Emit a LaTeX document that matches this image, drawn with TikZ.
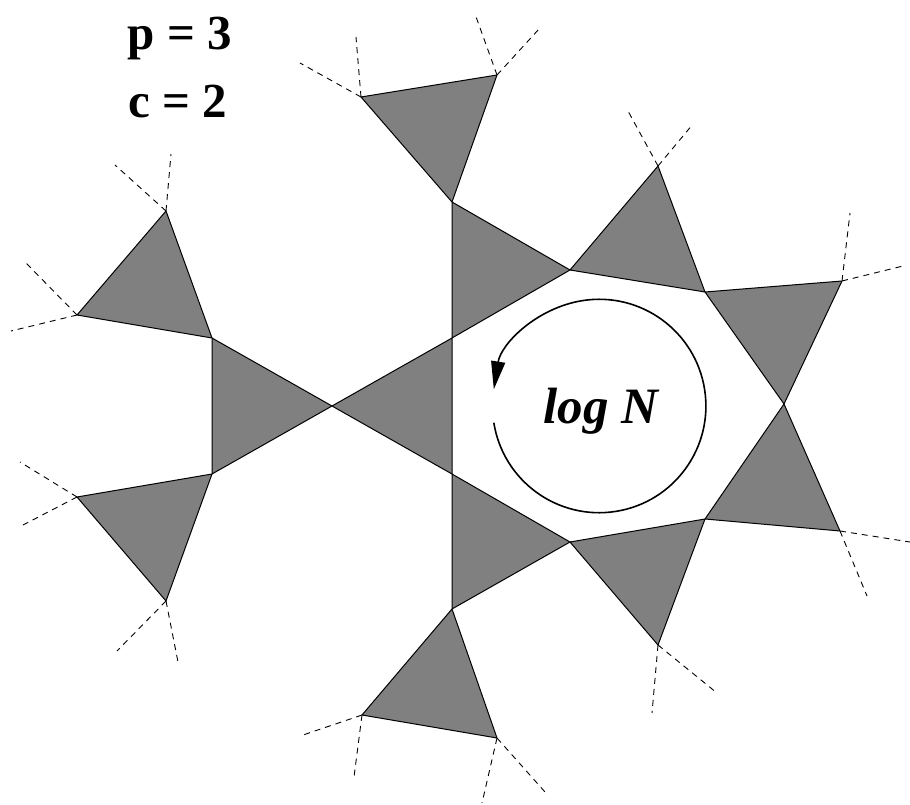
\documentclass[tikz,border=0pt]{standalone}
\usepackage{fontspec}
\setmainfont{Liberation Serif}
\usetikzlibrary{arrows.meta}
\begin{document}
\begin{tikzpicture}[x=1pt,y=1pt,
  tri/.style={fill=black!50, draw=black, line width=1pt, line join=round},
  link/.style={draw=black, dash pattern=on 6pt off 5pt, line width=0.9pt},
  lbl/.style={font=\fontsize{49}{58}\selectfont\bfseries, anchor=base, inner sep=0pt},
  cyc/.style={draw=black, line width=1.6pt, -{Triangle[length=28pt,width=14pt]}}]
\useasboundingbox (0,0) rectangle (910,-805);
% vertices
\coordinate (T1) at (361,-97);
\coordinate (T2) at (497,-75);
\coordinate (A) at (452,-202);
\coordinate (B) at (570,-270);
\coordinate (C) at (452,-338);
\coordinate (D) at (332,-406);
\coordinate (E) at (452,-474);
\coordinate (F) at (570,-542);
\coordinate (G) at (452,-609);
\coordinate (L1) at (212,-338);
\coordinate (L2) at (212,-474);
\coordinate (LU1) at (166,-211);
\coordinate (LU2) at (77,-315);
\coordinate (LL1) at (77,-497);
\coordinate (LL2) at (166,-601);
\coordinate (BT1) at (362,-715);
\coordinate (BT2) at (497,-738);
\coordinate (R1) at (658,-166);
\coordinate (R2) at (705,-292);
\coordinate (R3) at (842,-281);
\coordinate (R4) at (784,-404);
\coordinate (R5) at (840,-531);
\coordinate (R6) at (705,-519);
\coordinate (R7) at (658,-645);
% dashed link ends
\coordinate (T1a) at (300,-63);
\coordinate (T1b) at (356,-37);
\coordinate (T2a) at (475,-14);
\coordinate (T2b) at (539,-29);
\coordinate (LU1a) at (115,-165);
\coordinate (LU1b) at (171,-154);
\coordinate (LU2a) at (25,-262);
\coordinate (LU2b) at (11,-331);
\coordinate (LL1a) at (20,-462);
\coordinate (LL1b) at (23,-525);
\coordinate (LL2a) at (117,-651);
\coordinate (LL2b) at (178,-662);
\coordinate (BT1a) at (303,-735);
\coordinate (BT1b) at (354,-777);
\coordinate (BT2a) at (482,-803);
\coordinate (BT2b) at (545,-792);
\coordinate (R1a) at (628,-111);
\coordinate (R1b) at (693,-124);
\coordinate (R3a) at (850,-213);
\coordinate (R3b) at (903,-266);
\coordinate (R5a) at (910,-542);
\coordinate (R5b) at (867,-596);
\coordinate (R7a) at (652,-713);
\coordinate (R7b) at (717,-693);
% triangles
\filldraw[tri] (T1) -- (T2) -- (A) -- cycle;
\filldraw[tri] (A) -- (B) -- (C) -- cycle;
\filldraw[tri] (C) -- (D) -- (E) -- cycle;
\filldraw[tri] (E) -- (F) -- (G) -- cycle;
\filldraw[tri] (D) -- (L1) -- (L2) -- cycle;
\filldraw[tri] (L1) -- (LU2) -- (LU1) -- cycle;
\filldraw[tri] (L2) -- (LL1) -- (LL2) -- cycle;
\filldraw[tri] (G) -- (BT1) -- (BT2) -- cycle;
\filldraw[tri] (B) -- (R1) -- (R2) -- cycle;
\filldraw[tri] (R2) -- (R3) -- (R4) -- cycle;
\filldraw[tri] (R4) -- (R5) -- (R6) -- cycle;
\filldraw[tri] (R6) -- (R7) -- (F) -- cycle;
% dashed links
\foreach \v in {T1,T2,LU1,LU2,LL1,LL2,BT1,BT2,R1,R3,R5,R7}{
  \draw[link] (\v) -- (\v a);
  \draw[link] (\v) -- (\v b);
}
% cycle arrow
\coordinate (O) at (599.2,-406);
\draw[cyc] ([shift={(189:106.7)}]O) arc[start angle=189, end angle=531, radius=106.7];
\node[font=\fontsize{51}{60}\selectfont\bfseries\itshape, anchor=base, inner sep=0pt] (logn) at (601,-423) {log N};
% labels
\node[lbl] (p) at (180,-50) {p = 3};
\node[lbl] (c) at (178,-118) {c = 2};
\end{tikzpicture}
\end{document}
